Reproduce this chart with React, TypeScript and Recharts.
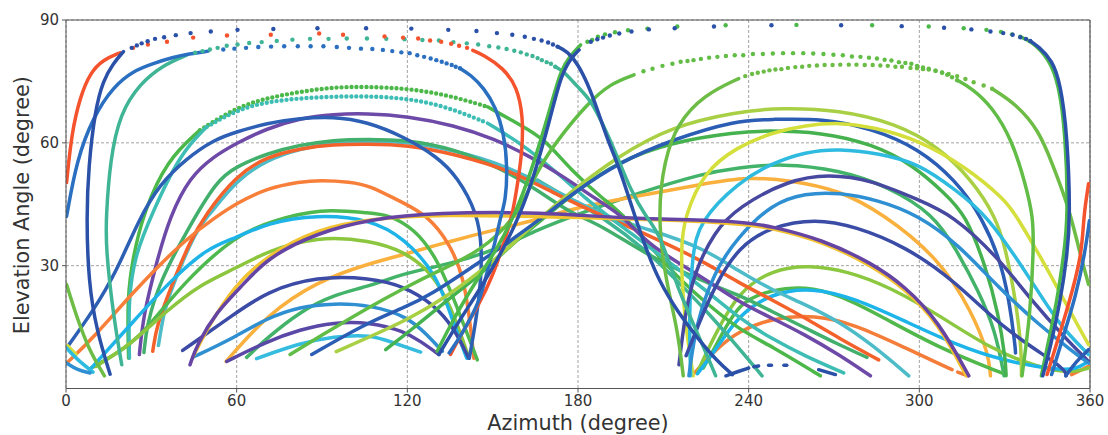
import { CartesianGrid, Line, LineChart, ReferenceLine, XAxis, YAxis } from 'recharts';

type Pt = [number, number];

const redRise: Pt[] = [[0.2, 50.3], [2, 62.5], [5, 71.3], [8.5, 77.1], [13, 80.3], [19, 82]];
const redDots: Pt[] = [[23.6, 83.2], [28.8, 84], [35.5, 84.7], [44.7, 85.7], [56.6, 86.2], [72, 86.4], [89, 86.7], [97.4, 86.4], [112, 86], [118.5, 85.7], [123.8, 85.5], [128, 85], [131.9, 84.7], [135.4, 84.2], [138.2, 83.7], [141, 83.2]];
const redFall: Pt[] = [[143, 82.6], [146.7, 81.5], [153.7, 78.3], [158.6, 73.7], [160.7, 66.4], [160.4, 58.3], [159, 51], [156.9, 42], [153.7, 35], [150.2, 27.8], [145.6, 21], [137.8, 11.9], [135.2, 8.3]];
const redEdge: Pt[] = [[359.5, 50], [357.7, 42], [357.2, 32.7], [352.5, 20.5], [347.8, 9.9], [344.9, 3.4]];

const blueRise: Pt[] = [[0.2, 42], [3.75, 55.8], [9.6, 66.4], [16.6, 73.7], [23.7, 77.6], [30.7, 79.4], [37.7, 80.9], [42.4, 81.6], [50, 82.4]];
const blueDots: Pt[] = [[55.3, 82.8], [59.2, 83], [63.3, 83.2], [67.6, 83.4], [72.1, 83.5], [76.7, 83.6], [81.5, 83.6], [86, 83.6], [90.5, 83.6], [95.2, 83.4], [99.5, 83.2], [103.7, 83], [107.7, 82.9], [111.4, 82.7], [114.7, 82.4], [117.9, 82.1], [120.8, 81.9], [123.5, 81.4], [125.9, 81], [128.2, 80.6], [130.2, 80.2], [132.1, 79.8], [133.8, 79.4], [135.6, 79], [137, 78.6], [138.5, 78.2]];
const blueFall: Pt[] = [[138.5, 78.2], [142.3, 76.6], [147, 73.3], [151, 68.8], [154, 62.3], [155.2, 54], [154.6, 46], [152.8, 42], [151, 36], [148, 28.6], [145.8, 21.7], [139, 13], [134.7, 8.7]];
const blueEdge: Pt[] = [[359.8, 41], [358.2, 33], [355, 22.5], [350.5, 12.5], [346.5, 3.4]];

const navyRise: Pt[] = [[15.5, 3.5], [10.8, 14], [7.9, 26], [7.2, 42], [7.9, 54], [10.2, 68], [13.1, 75.3], [16.6, 79.4], [20.2, 82.3]];
const navyDots: Pt[] = [[23.1, 83.2], [24.9, 83.8], [26.6, 84.3], [28.7, 84.8], [31.3, 85.4], [34.5, 85.8], [38.6, 86.3], [43.8, 86.8], [50.9, 87.2], [60.3, 87.6], [72.9, 87.8], [88.4, 88], [105.5, 88], [121.4, 87.9], [134.4, 87.6], [144.3, 87.3], [151.5, 86.8], [156.9, 86.4], [161.3, 85.9], [164.5, 85.4], [167.2, 85], [169.5, 84.5], [171.2, 84], [172.8, 83.5]];
const navyFall: Pt[] = [[172.8, 83.5], [176.3, 82.3], [179.8, 79.4], [183.4, 74.5], [186.9, 68], [190.4, 60.7], [193.9, 55], [197.4, 47.7], [199.9, 42.3], [203.8, 34.3], [208.5, 26.2], [215, 18.8], [222, 12.3], [229, 6.6], [234.3, 3.4]];
const navyLowA: Pt[] = [[232, 3.1], [236.5, 4.2], [240, 5]];
const navyLowB: Pt[] = [[241.8, 5.3], [243.5, 5.5]];
const navyLowC: Pt[] = [[247, 5.7], [248, 5.7]];
const navyLowE: Pt[] = [[252.4, 5.7], [253.4, 5.7]];
const navyLowD: Pt[] = [[264.6, 4.6], [270.5, 3.4]];

const seaRise: Pt[] = [[19.6, 5.8], [16.6, 18], [14, 34.3], [14.1, 42], [15.5, 55.8], [19, 67.2], [26, 74.5], [34.2, 79], [42.4, 81.4]];
const seaDots: Pt[] = [[45.4, 82], [48, 82.4], [50.6, 82.8], [53.3, 83.2], [56.5, 83.7], [60.3, 84], [64.4, 84.4], [68.8, 84.6], [74.1, 84.9], [79.6, 85.2], [85.8, 85.4], [92.3, 85.4], [98.7, 85.5], [105.8, 85.5], [112.6, 85.4], [119, 85.3], [125.3, 85.1], [131.1, 85], [136.2, 84.6], [140.9, 84.3], [144.9, 84], [148.8, 83.6], [152, 83.3], [154.9, 82.9], [157.6, 82.5], [159.9, 82.1], [162, 81.6], [164, 81.2], [165.8, 80.7], [167.3, 80.2], [169, 79.7], [170.5, 79.3], [172, 78.6]];
const seaFall: Pt[] = [[172, 78.6], [175.1, 77.4], [179.8, 73.7], [184.5, 70.5], [189.2, 63.9], [193.9, 56.6], [198.5, 48.4], [203.8, 42], [209, 37.6], [214.4, 25.4], [224.3, 9.9], [228.4, 3.1]];

const greenPeak73Rise: Pt[] = [[22, 7.4], [21.5, 22], [23.5, 32], [27.2, 42.8], [35.4, 55.8], [47.1, 63.1]];
const greenPeak73Top: Pt[] = [[47.1, 63.1], [59.9, 68.7], [70.6, 70.9], [82.3, 72.5], [94, 73.6], [105.7, 73.7], [120, 73.3], [134.1, 71.7], [148.2, 68.8]];
const greenPeak73Fall: Pt[] = [[148.2, 68.8], [159.9, 64.3], [168.2, 61], [177.4, 53.4], [189.2, 46], [196.2, 42.5], [212.6, 28.6], [224.3, 21.3], [236.5, 14.4], [248.2, 10.3], [265.2, 3.1]];

const tealPeak71Rise: Pt[] = [[22.3, 7.4], [21.9, 22], [24.3, 32.7], [30.1, 42.5], [40.1, 57.4], [49.5, 63.9]];
const tealPeak71Top: Pt[] = [[49.5, 63.9], [59.9, 68], [70.6, 70], [82.3, 70.9], [94, 71.3], [105.7, 71.4], [120, 70.9], [134.1, 68.8], [148.2, 64.8]];
const tealPeak71Fall: Pt[] = [[148.2, 64.8], [159.9, 59.9], [171.6, 53.4], [183.3, 46], [191.5, 41.6], [224.3, 24.5], [236.5, 17.2], [248.2, 12.1], [259.9, 7.9], [273.4, 3.8]];

const purplePeak67: Pt[] = [[25.8, 8.3], [27.2, 18], [31.9, 31], [36.5, 42], [43.6, 51.7], [51.8, 56.6], [59.9, 59.9], [70.6, 63.5], [82.3, 66], [94, 67], [105.7, 67.2], [120, 66.5], [136.4, 64.3], [150.5, 61], [163.4, 56.6], [175.1, 51.7], [186.8, 46], [196.2, 42], [204.4, 35.1], [224.3, 27], [236.5, 21.1], [248.2, 17.2], [259.9, 13.1], [271.7, 8.3], [282.8, 3.1]];
const bluePeak66: Pt[] = [[0.2, 9.9], [9.6, 19], [17.8, 28.6], [25.4, 41], [33, 50], [42.4, 56.2], [51.8, 60.7], [59.9, 62.7], [70.6, 64.8], [82.3, 66], [94, 66.4], [105.7, 65.2], [118.8, 61.5], [130.5, 56.6], [137.6, 51.7], [144.6, 42.8], [146.4, 34.3], [145.5, 22], [141.8, 7.4]];
const greenPeak61: Pt[] = [[27.4, 8.8], [28.4, 15.6], [33, 26.2], [42.4, 38.4], [53, 50.9], [59.9, 54.2], [70.6, 57.4], [82.3, 59.5], [94, 60.7], [105.7, 60.9], [120, 60.7], [136.4, 58.6], [154, 53.4], [165.7, 48.5], [177.4, 42.8], [188, 40], [204.4, 32.5], [224.3, 26], [236.5, 22.9], [248.2, 18.8], [259.9, 14.8], [271.7, 10.7], [281.6, 7.6]];
const seaHidden: Pt[] = [[165.7, 50.9], [179.8, 45.2], [189.2, 41.6], [204.4, 33.5], [212.6, 27.8], [224.3, 19.7], [236.5, 9.9], [244.7, 3.1]];
const tealPeak60: Pt[] = [[32.5, 10.5], [34.2, 18], [36.6, 23.7], [46, 39.2], [50, 42], [59.9, 50.9], [70.6, 55.8], [82.3, 58.6], [94, 59.9], [105.7, 60.3], [120, 60.3], [136.4, 58.2], [154, 54.6], [171.6, 48.5], [189.2, 42], [204.4, 39], [224.3, 34.3], [236.5, 28.6], [248.2, 24.1], [259.9, 20.5], [271.7, 16.4], [283.4, 10.7], [296.3, 3.1]];
const redPeak60: Pt[] = [[30.5, 9.1], [31.9, 15.6], [37.7, 26.2], [43.6, 35.9], [49, 42.5], [59.9, 52.1], [70.6, 56.6], [82.3, 58.6], [94, 59.6], [105.7, 59.7], [120, 59.5], [136.4, 57.3], [157.5, 53], [172.8, 47.2], [189.2, 42], [204.4, 37.6], [224.3, 31], [236.5, 25.8], [248.2, 21.7], [259.9, 17.2], [271.7, 12.3], [285.7, 7]];
const orangePeak51: Pt[] = [[0.2, 6.2], [9.6, 12.3], [23.7, 23.7], [42.4, 36.8], [53, 42], [59.9, 45.2], [70.6, 48.9], [82.3, 50.5], [89.3, 50.9], [99.9, 50.5], [107, 49.5], [116.5, 46], [127, 42.5], [135.2, 35.1], [139.9, 27], [142.3, 14.8], [143.4, 7.4]];
const greenPeak44: Pt[] = [[8.4, 4.8], [21.3, 9.9], [29, 15], [41.5, 26], [59.9, 37.6], [72.9, 41], [89.3, 44], [107, 42.8], [113, 42.5], [122.3, 39.2], [130.5, 31.9], [137.6, 19.7], [144.6, 7]];
const cyanPeak42: Pt[] = [[8.4, 4.6], [23.7, 16.4], [36.6, 26.2], [49.5, 34.3], [59.9, 36.8], [70.6, 40.4], [88.2, 42.5], [107, 41.3], [118.8, 36.8], [130.5, 27.8], [136.4, 15.6], [140.9, 7.4]];
const limePeak37: Pt[] = [[10.5, 5.4], [21.9, 10.3], [35.4, 19], [47.1, 25.4], [59.9, 29.4], [70.6, 33.5], [88.2, 37.2], [107, 36.2], [118.8, 33.5], [128.2, 28.6], [135.2, 20.5], [141.7, 7.4]];
const indigoPeak28: Pt[] = [[41, 9.3], [58.8, 18], [70.6, 23.7], [88.2, 27.4], [107, 27], [118.8, 25], [129.4, 20.5], [136.4, 14.8], [141.6, 7.4]];
const bluePeak20: Pt[] = [[44.8, 7.7], [58.8, 12.3], [70.6, 17.2], [82.3, 20], [94, 20.8], [107, 20.4], [120, 17.6], [127, 13.1], [132.3, 9.1]];
const indigoPeak16: Pt[] = [[56.5, 6.6], [70.6, 11.5], [82.3, 14.4], [94, 16.2], [107, 16.2], [118.8, 14], [124.7, 11.5], [131.1, 8.3]];
const cyanPeak13: Pt[] = [[67, 7.3], [82.3, 11.1], [94, 12.7], [107, 13.2], [115.3, 11.1], [124.7, 8.9]];

const yellowLong: Pt[] = [[44.5, 7.5], [49.5, 14.5], [59, 25], [70.6, 32.4], [88.2, 39], [107, 41.4], [130, 42.6], [180, 41.8], [236, 40.6], [248.2, 39.2], [265.8, 36], [283.4, 30], [295.1, 24.3], [306.8, 15.9], [316.5, 3.1]];
const purpleLong: Pt[] = [[43.6, 5.8], [46, 10.7], [53, 18.8], [61.2, 24.5], [70.6, 31.9], [88.2, 38], [107, 41.4], [130.5, 43], [165.7, 43], [180, 42.3], [200.9, 41.5], [236, 41], [248.2, 39.6], [265.8, 36.4], [283.4, 30.6], [295.1, 24.9], [306.8, 16.4], [317.4, 3.1]];

const amberLong: Pt[] = [[56.3, 6.6], [70.6, 18], [88.2, 26.2], [106.9, 30.6], [118.8, 32.7], [135.2, 36], [151, 38.8], [165.7, 41.2], [178, 44], [201, 47], [224, 50], [240, 51.7], [255, 50.8], [271.7, 48.5], [287, 42.8], [306.8, 31.9], [318.5, 18.8], [324.4, 8.3], [325, 3.1]];
const greenPeak55: Pt[] = [[63.5, 7.6], [70.6, 12.3], [82.3, 18.8], [94, 22.9], [106.9, 25], [118.8, 28.2], [134.1, 30.2], [152.8, 34.3], [165.7, 38.8], [179.8, 42.5], [200.9, 47.7], [224.3, 52.6], [236, 53.9], [251.7, 55], [271.7, 53.4], [289.2, 49.3], [305, 42.5], [312.7, 34.3], [320.9, 23.7], [326.8, 14], [329.8, 3.1]];
const greenPeak63: Pt[] = [[112.4, 9.5], [122.3, 14.8], [136.4, 22.9], [145.8, 27.8], [156.4, 35.1], [168, 41.6], [179.8, 48.5], [193.9, 55.3], [212.6, 60.2], [236, 62.6], [245.9, 63], [265.8, 62.6], [283.4, 59.7], [297.4, 54.8], [309.2, 47.5], [316.2, 42.5], [323.2, 30.2], [327.9, 18], [330.3, 7], [330.5, 3.1]];
const limePeak68: Pt[] = [[95, 9], [107, 12.7], [120, 16.8], [132.9, 22], [145.8, 28.6], [157.5, 35.5], [168, 42.5], [179.8, 49.3], [193.9, 56.6], [212.6, 64], [236, 67.6], [251.7, 68.6], [271.7, 68], [291.6, 64.8], [306.8, 59], [318.5, 50.9], [326.8, 42], [330.3, 34.3], [333.8, 22], [335.9, 9.9], [335.9, 3.1]];
const bluePeak66Right: Pt[] = [[86.4, 8.3], [105.7, 16], [118.8, 19.7], [128.2, 22.9], [142.3, 29.4], [154, 35], [165.7, 40.8], [179.8, 48.5], [193.9, 55], [212.6, 60.7], [236, 65.6], [248.2, 65.7], [265.8, 66], [283.4, 63.5], [299.8, 58.6], [312.7, 50.9], [322, 42], [330.3, 28.6], [333.8, 9.9], [333.8, 8.7]];
const yellowPeak65: Pt[] = [[220.5, 3.1], [217.2, 18], [216, 34.3], [217.5, 42], [224.3, 53], [236, 59], [248, 62.5], [260, 64.3], [272, 65], [284, 63.8], [299.8, 60.7], [316.2, 54.2], [330.3, 46], [333.8, 42.5], [344.3, 30.2], [353.6, 18], [359.5, 10.7]];
const yellowEdge: Pt[] = [[0.5, 10.5], [3.5, 8.3]];
const cyanPeak58: Pt[] = [[219.6, 3.1], [219, 18], [220.2, 32.7], [222.6, 40.8], [236.5, 50.5], [248.2, 55], [259.9, 57.8], [271.7, 58.6], [285.7, 57.4], [299.8, 55], [312.7, 48.5], [323.8, 42.5], [339.6, 26.2], [349, 15.6], [359.5, 8.3]];
const cyanEdge: Pt[] = [[0.2, 9.9], [4, 7], [9.5, 4]];
const indigoPeak52: Pt[] = [[215.5, 5.8], [217.6, 18], [220.6, 27.8], [227.9, 38.4], [236.5, 44.4], [254, 50.9], [268, 52.4], [283.4, 50.9], [299.8, 46], [311.5, 42.5], [327.9, 31.9], [339.6, 21.3], [351.3, 12.3], [359.5, 6.6]];
const bluePeak48: Pt[] = [[219, 3.1], [221.4, 15.6], [227.9, 28.6], [236, 36.8], [248.2, 45.2], [259.9, 47.7], [271.7, 47.9], [285.7, 46], [299.8, 42.3], [313.9, 35.1], [328, 24.5], [342, 15.6], [353.8, 9.1], [359.5, 6.2]];
const blueEdgeLow: Pt[] = [[0.2, 6.2], [4, 4.5], [8.5, 3.8]];
const indigoPeak41: Pt[] = [[218, 8], [222, 15], [228, 25], [236.5, 34.7], [248.2, 39.6], [263.4, 41.5], [277.5, 39.6], [295.1, 34.7], [312.7, 26.2], [330.3, 14], [351.3, 5], [351.6, 3.1]];
const orangePeak18: Pt[] = [[221, 3.8], [229, 9.9], [236.5, 14], [248.2, 17.2], [263.4, 18], [277.5, 15.6], [295.1, 9.9], [311.5, 4.6]];
const orangeDash: Pt[] = [[313.5, 4], [317, 3.1]];
const greenPeak25: Pt[] = [[224, 5], [229, 11], [236.5, 21.3], [248.2, 24.1], [259.9, 25], [271.7, 22.9], [285.7, 18], [306.8, 9.9], [329, 3.8]];
const cyanPeak25: Pt[] = [[222, 3.6], [229, 10], [236.5, 18], [248.2, 23.3], [262, 24.7], [277.5, 22], [295.1, 16.4], [312.7, 10.7], [330.3, 6.6], [347.9, 4.6], [355, 4.6], [359.5, 6.6]];
const limePeak30: Pt[] = [[222, 4], [228, 13], [236.5, 23.7], [248.2, 29], [261.1, 30.2], [275.1, 28.6], [289.2, 24.9], [306.8, 18], [324.4, 9.9], [342, 5], [353.8, 3.8], [359.5, 5]];
const blueEdgeShort: Pt[] = [[359.5, 9.5], [355, 6.5], [351.5, 3.1]];
const orangeEdge: Pt[] = [[359.5, 5.4], [353.5, 3.4]];

const greenLowRise: Pt[] = [[217, 3.1], [214.9, 15], [210.6, 27], [208, 42.5], [210.3, 55.8], [215, 64.8], [224.3, 71.7], [236.5, 75.7]];
const greenLowDots: Pt[] = [[238.8, 76.3], [241.2, 76.8], [243.2, 77.1], [245.3, 77.4], [247.3, 77.7], [249.4, 77.9], [251.5, 78], [253.8, 78.3], [256.4, 78.5], [258.8, 78.6], [261.3, 78.8], [264, 78.9], [266.7, 79], [269.5, 79], [272.2, 79.1], [275.2, 79.1], [277.9, 79.1], [280.8, 79], [283.6, 79], [286.3, 78.9], [288.9, 78.8], [291.6, 78.6], [293.9, 78.6], [296.9, 78.3], [299.2, 78.2], [301.3, 78], [303.3, 77.9], [305.7, 77.6], [308, 77.2], [310.3, 76.8], [313.3, 76.3], [316.2, 75.6], [319.1, 74.8], [322.6, 74], [325.6, 73.2]];
const greenLowFall: Pt[] = [[325.6, 73.2], [333.8, 69.6], [342, 63.1], [346.7, 55], [352.5, 44.4], [356, 34.3], [359.5, 25.4]];
const greenLowEdge: Pt[] = [[0.2, 25.4], [3.5, 18], [8, 9.5], [13.5, 3.1]];

const greenHighRise: Pt[] = [[78.8, 8.3], [88.2, 12.3], [106.9, 20], [118.8, 24.5], [130.5, 28.6], [145.8, 33.5], [158.7, 42], [165.7, 53.4], [172.8, 60.7], [183.3, 69.6], [191.5, 74.5], [199.7, 76.6]];
const greenHighDots: Pt[] = [[203, 77.5], [206.2, 78.1], [209.7, 78.8], [213.2, 79.3], [216.1, 79.8], [218.5, 80], [220.6, 80.2], [223.2, 80.5], [226.1, 80.8], [229, 81], [232, 81.2], [235.1, 81.4], [238.1, 81.4], [241.5, 81.7], [245, 81.7], [248.5, 81.8], [252.1, 81.9], [255.6, 81.9], [259.2, 81.9], [262.7, 81.8], [266.3, 81.7], [269.8, 81.5], [273.1, 81.4], [276.3, 81.1], [279.3, 81], [282.3, 80.8], [285.1, 80.6], [287.8, 80.3], [290.2, 80.1], [292.8, 79.7], [295.1, 79.5], [297.2, 79.3], [299.2, 78.8], [301.3, 78.4], [303.3, 78.1], [305.7, 77.6], [308, 77.1], [309.8, 76.6], [311.5, 76], [313.3, 75.3]];
const greenHighFall: Pt[] = [[313.3, 75.3], [318.5, 73.3], [325.6, 68.8], [332.6, 60.7], [337.3, 50], [340, 42], [340.2, 34.3], [339, 18], [336.1, 3.1]];

const greenTopRise: Pt[] = [[130.5, 9.1], [136.4, 17.2], [143.4, 25.4], [151.7, 34.3], [157.5, 42], [163.4, 52.5], [170.4, 68.8], [173.9, 77.8], [177.4, 81.4], [180.9, 83.9]];
const greenTopDots: Pt[] = [[183.3, 84.7], [185, 85.1], [187, 85.9], [189.5, 86.5], [193, 87], [197.6, 87.5], [204.4, 87.9], [214.9, 88.4], [231.9, 88.7], [256.8, 88.8], [283.4, 88.7], [303.3, 88.4], [315.6, 88], [323.6, 87.6], [328.7, 87.1], [332.6, 86.5], [335.5, 85.9]];
const greenTopFall: Pt[] = [[335.5, 85.9], [339.6, 84.7], [345.5, 80.6], [349, 74.5], [351.4, 62.3], [352.3, 42], [350.8, 32.7], [348.4, 21.3], [344.9, 9.9], [342.9, 3.1]];

const navyTopRise: Pt[] = [[131.1, 8.3], [138.8, 17.2], [145.8, 24.5], [154, 34.3], [159.3, 42], [164.5, 51.7], [170.4, 66.4], [173.9, 76.2], [177.4, 80.6], [180.4, 82.7]];
const navyTopDots: Pt[] = [[184.5, 84.7], [186.8, 85.3], [188.8, 85.7], [191.2, 86.2], [194.5, 86.7], [198.8, 87.2], [204.9, 87.7], [214, 88], [227.8, 88.4], [248, 88.7], [272.5, 88.7], [293.8, 88.5], [308.7, 88.1], [318.3, 87.7], [325, 87.2], [329.5, 86.8], [332.8, 86.4], [335.5, 85.8], [337.5, 85.4], [339, 84.9]];
const navyTopFall: Pt[] = [[339, 84.9], [341.9, 83.5], [346.7, 80.2], [349.6, 74.5], [352, 62.3], [353.1, 42], [352, 32.7], [349.6, 21.3], [346, 9.9], [343.4, 3.1]];

const xTicks = [0, 60, 120, 180, 240, 300, 360];
const yTicks = [30, 60, 90];

const RED = '#f4532d';
const NAVY = '#2a50a8';
const BLUE = '#2a6fc0';
const SEA = '#3fb596';
const GREEN = '#4cb84a';
const TEAL = '#3dbdb4';

// drawn in this order; plain entries are the solid part of a pass, 'dots' the
// sparse samples near zenith, 'beads' the tightly sampled stretch near a peak
const tracks: { pts: Pt[]; color: string; kind?: 'dots' | 'beads' }[] = [
  { pts: greenPeak55, color: '#43b36a' },
  { pts: amberLong, color: '#f9b03d' },
  { pts: orangePeak18, color: '#f57d3a' },
  { pts: orangeDash, color: '#f57d3a' },
  { pts: orangeEdge, color: '#f57d3a' },
  { pts: greenPeak25, color: '#51b84b' },
  { pts: limePeak30, color: '#8bc840' },
  { pts: cyanPeak25, color: '#1db4e9' },
  { pts: seaHidden, color: SEA },
  { pts: tealPeak60, color: '#4dbcc8' },
  { pts: greenPeak61, color: '#42b06c' },
  { pts: redPeak60, color: '#f4622c' },
  { pts: greenPeak73Rise, color: GREEN },
  { pts: greenPeak73Top, color: GREEN, kind: 'beads' },
  { pts: greenPeak73Fall, color: GREEN },
  { pts: tealPeak71Rise, color: TEAL },
  { pts: tealPeak71Top, color: TEAL, kind: 'beads' },
  { pts: tealPeak71Fall, color: TEAL },
  { pts: purplePeak67, color: '#6e4aa8' },
  { pts: orangePeak51, color: '#f77f3a' },
  { pts: greenPeak44, color: '#4fb84e' },
  { pts: limePeak37, color: '#8cc63f' },
  { pts: cyanPeak42, color: '#1fb4e8' },
  { pts: indigoPeak28, color: '#3c4ba5' },
  { pts: bluePeak20, color: '#2f8fd0' },
  { pts: indigoPeak16, color: '#5a48a6' },
  { pts: cyanPeak13, color: '#36bcdf' },
  { pts: bluePeak66, color: '#2d5fb4' },
  { pts: greenPeak63, color: '#45b24f' },
  { pts: limePeak68, color: '#a9d045' },
  { pts: bluePeak66Right, color: '#2a5db3' },
  { pts: yellowPeak65, color: '#d4df3c' },
  { pts: yellowEdge, color: '#d4df3c' },
  { pts: cyanPeak58, color: '#2fbbdf' },
  { pts: cyanEdge, color: '#2fbbdf' },
  { pts: indigoPeak52, color: '#47489f' },
  { pts: bluePeak48, color: '#2e8fd2' },
  { pts: blueEdgeLow, color: '#2e8fd2' },
  { pts: indigoPeak41, color: '#3a4ca6' },
  { pts: blueEdgeShort, color: '#2a5db3' },
  { pts: yellowLong, color: '#f2c230' },
  { pts: purpleLong, color: '#6544a4' },
  { pts: greenLowEdge, color: '#6cbc45' },
  { pts: greenLowRise, color: '#6cbc45' },
  { pts: greenLowDots, color: '#6cbc45', kind: 'dots' },
  { pts: greenLowFall, color: '#6cbc45' },
  { pts: greenHighRise, color: '#62bd47' },
  { pts: greenHighDots, color: '#62bd47', kind: 'dots' },
  { pts: greenHighFall, color: '#62bd47' },
  { pts: seaRise, color: SEA },
  { pts: seaDots, color: SEA, kind: 'dots' },
  { pts: seaFall, color: SEA },
  { pts: redRise, color: RED },
  { pts: redDots, color: RED, kind: 'dots' },
  { pts: redFall, color: RED },
  { pts: redEdge, color: RED },
  { pts: blueRise, color: BLUE },
  { pts: blueDots, color: BLUE, kind: 'dots' },
  { pts: blueFall, color: BLUE },
  { pts: blueEdge, color: BLUE },
  { pts: greenTopRise, color: GREEN },
  { pts: greenTopDots, color: GREEN, kind: 'dots' },
  { pts: greenTopFall, color: GREEN },
  { pts: navyTopRise, color: NAVY },
  { pts: navyTopDots, color: NAVY, kind: 'dots' },
  { pts: navyTopFall, color: NAVY },
  { pts: navyRise, color: NAVY },
  { pts: navyDots, color: NAVY, kind: 'dots' },
  { pts: navyFall, color: NAVY },
  { pts: navyLowA, color: NAVY },
  { pts: navyLowB, color: NAVY },
  { pts: navyLowC, color: NAVY },
  { pts: navyLowE, color: NAVY },
  { pts: navyLowD, color: NAVY },
];

const AXIS_COLOR = '#555';
const tickStyle = { fill: '#333', fontSize: 15, fontFamily: 'DejaVu Sans' };
const labelStyle = { fill: '#333', fontSize: 20.8, fontFamily: 'DejaVu Sans' };

export default function App() {
  return (
    <div style={{ position: 'absolute', left: 0, top: 0, width: 1108, height: 435, background: '#fff' }}>
      <LineChart width={1108} height={435} margin={{ top: 20, right: 18, bottom: 0, left: 0 }}>
        <CartesianGrid stroke="#999" strokeDasharray="3 2" strokeWidth={0.9} />
        <XAxis
          type="number"
          dataKey="az"
          domain={[0, 360]}
          ticks={xTicks}
          height={46.5}
          tick={tickStyle}
          tickSize={4}
          tickMargin={3}
          interval={0}
          stroke={AXIS_COLOR}
          allowDataOverflow
          label={{ value: 'Azimuth (degree)', position: 'insideBottom', offset: 5, style: labelStyle }}
        />
        <YAxis
          type="number"
          dataKey="el"
          domain={[0, 90]}
          ticks={yTicks}
          width={66}
          tick={tickStyle}
          tickSize={4}
          tickMargin={3}
          interval={0}
          stroke={AXIS_COLOR}
          allowDataOverflow
          label={{ value: 'Elevation Angle (degree)', angle: -90, position: 'insideLeft', offset: 22, dy: 130, style: labelStyle }}
        />
        <ReferenceLine y={90} stroke={AXIS_COLOR} strokeWidth={1.2} />
        <ReferenceLine x={360} stroke={AXIS_COLOR} strokeWidth={1.2} />
        {tracks.map((t, i) => {
          const data = t.pts.map(([az, el]) => ({ az, el }));
          if (t.kind === 'dots') {
            return (
              <Line
                key={i}
                data={data}
                dataKey="el"
                type="linear"
                stroke="none"
                dot={{ r: 2.2, fill: t.color, stroke: 'none' }}
                activeDot={false}
                isAnimationActive={false}
              />
            );
          }
          return (
            <Line
              key={i}
              data={data}
              dataKey="el"
              type="basis"
              stroke={t.color}
              strokeWidth={t.kind === 'beads' ? 4.4 : 3.5}
              strokeLinecap="round"
              strokeDasharray={t.kind === 'beads' ? '0 5' : undefined}
              dot={false}
              activeDot={false}
              isAnimationActive={false}
            />
          );
        })}
      </LineChart>
    </div>
  );
}
